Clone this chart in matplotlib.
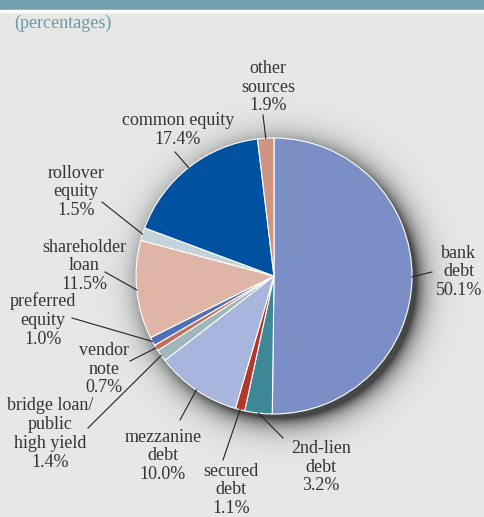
import numpy as np
import matplotlib
matplotlib.use("Agg")
import matplotlib.pyplot as plt

# data (percentages), clockwise from 12 o'clock
labels = ["bank\ndebt", "2nd-lien\ndebt", "secured\ndebt", "mezzanine\ndebt",
          "bridge loan/\npublic\nhigh yield", "vendor\nnote", "preferred\nequity",
          "shareholder\nloan", "rollover\nequity", "common equity", "other\nsources"]
values = [50.1, 3.2, 1.1, 10.0, 1.4, 0.7, 1.0, 11.5, 1.5, 17.4, 1.9]
colors = ["#7b8fc6", "#3e8796", "#b5372b", "#a8b5dc", "#9db7ba", "#c66d5a",
          "#4f70b8", "#dfb5a7", "#c4d3da", "#0052a0", "#cf9482"]

# label placement (pixel coords, y down): text centre, end of leader line
text_pos = [(459, 272), (321, 467), (231, 490), (163, 456), (50, 434), (104, 369),
            (43, 320), (84, 266), (76, 192), (178, 130), (268, 87)]
line_end = [(432, 272), (283, 438), (223, 460), (180, 420), (88, 428), (130, 361),
            (72, 318), (105, 272), (102, 202), (175, 152), (263, 115)]

W, H = 485, 517
cx, cy, r = 274, 276, 138

plt.rcParams['font.family'] = ['Liberation Serif', 'DejaVu Serif']

fig = plt.figure(figsize=(W / 100, H / 100), dpi=100)
fig.patch.set_facecolor("#e7e9e9")
ax = fig.add_axes([0, 0, 1, 1])
ax.set_facecolor("#e7e9e9")

# background with soft shadow, precomposited as an opaque image
yy, xx = np.mgrid[0:H, 0:W] + 0.5
d = np.hypot(xx - (cx + 7), yy - (cy + 7))
a = np.clip(0.8 * np.exp(-(d - r + 3) / 11.0), 0, 0.8)
base = np.array([0xe7, 0xe9, 0xe9]) / 255.0
sh = 0.12
img = base[None, None, :] * (1 - a[..., None]) + sh * a[..., None]
img = (img * 255).astype(np.uint8)
ax.imshow(img, extent=(0, W, H, 0), origin="upper", zorder=0,
          interpolation="nearest")

wedges, _ = ax.pie(values, colors=colors, startangle=-90, counterclock=True,
                   center=(cx, cy), radius=r,
                   wedgeprops=dict(edgecolor="white", linewidth=0.8))
for w in wedges:
    w.set_zorder(2)

ax.set_xlim(0, W)
ax.set_ylim(H, 0)
ax.set_aspect("auto")
ax.axis("off")

# header band
ax.add_patch(plt.Rectangle((0, 0), W, 10, color="#73a0b0", zorder=3))
ax.add_patch(plt.Rectangle((0, 10), W, 1.5, color="white", zorder=3))
ax.text(14, 23, "(percentages)", color="#6a9aa8", fontsize=13,
        ha="left", va="center", zorder=4)

# labels and leader lines
total = sum(values)
cum = 0.0
for lab, v, tp, le in zip(labels, values, text_pos, line_end):
    mid = (cum + v / 2) / total
    cum += v
    th = np.deg2rad(-90 + 360 * mid)
    px, py = cx + r * np.cos(th), cy + r * np.sin(th)
    ax.plot([px, le[0]], [py, le[1]], color="#222222", lw=0.8, zorder=3)
    pct = "%.1f%%" % v
    ax.text(tp[0], tp[1], lab + "\n" + pct, ha="center", va="center",
            fontsize=13, color="#333333", linespacing=1.15, zorder=4)

fig.savefig("out.png", dpi=100, facecolor=fig.get_facecolor())
